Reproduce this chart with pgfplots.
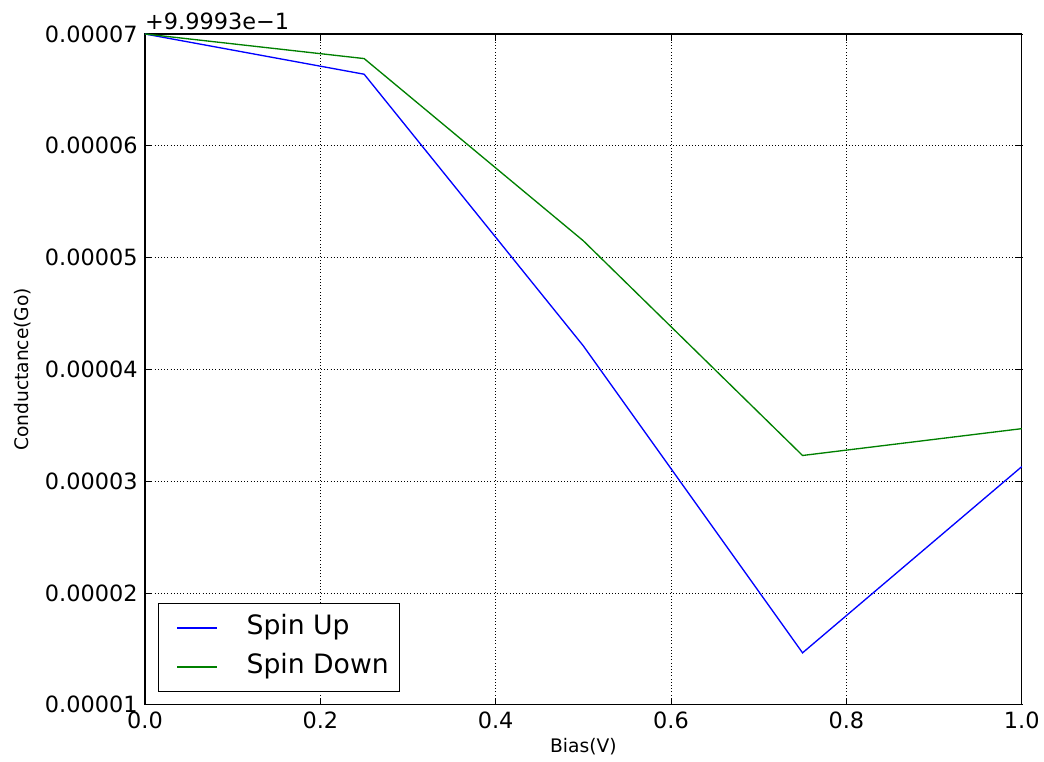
\documentclass[border=0pt]{standalone}
\usepackage{pgfplots}
\pgfplotsset{compat=1.18}
\usepackage{fontspec}
\setmainfont{DejaVu Sans}
\definecolor{mplblue}{rgb}{0,0,1}
\definecolor{mplgreen}{rgb}{0,0.5,0}
\begin{document}
\begin{tikzpicture}
\begin{axis}[
  scale only axis,
  width=657.75pt, height=503.25pt,
  clip=false,
  xmin=0, xmax=1, ymin=0.00001, ymax=0.00007,
  scaled y ticks=false, scaled x ticks=false,
  xtick={0,0.2,0.4,0.6,0.8,1.0},
  xticklabels={0.0,0.2,0.4,0.6,0.8,1.0},
  ytick={0.00001,0.00002,0.00003,0.00004,0.00005,0.00006,0.00007},
  yticklabels={0.00001,0.00002,0.00003,0.00004,0.00005,0.00006,0.00007},
  tick align=inside,
  tick pos=both,
  major tick length=5pt,
  tick style={black, line width=0.6pt},
  grid=major,
  grid style={black, dotted, line width=0.6pt},
  axis line style={black, line width=1pt},
  /pgf/number format/assume math mode=true,
  ticklabel style={font=\fontsize{16.8pt}{19pt}\selectfont},
  xticklabel style={yshift=-2pt},
  yticklabel style={xshift=-2pt},
  label style={font=\fontsize{14pt}{17pt}\selectfont},
  xlabel={Bias(V)},
  ylabel={Conductance(Go)},
  xlabel style={at={(axis description cs:0.5,0)}, anchor=center, yshift=-31pt},
  ylabel style={at={(axis description cs:-0.14,0.5)}, anchor=center},
  legend style={at={(axis description cs:0.0148,0.019)}, anchor=south west,
    draw=black, line width=1pt, font=\fontsize{20pt}{24pt}\selectfont,
    row sep=9.25pt, inner xsep=4pt, inner ysep=8.4pt,
    nodes={inner xsep=4pt, inner ysep=0pt, text height=15pt, text depth=5pt}},
  legend cell align=left,
  legend image code/.code={\path[draw=none] (0pt,0pt) -- (58pt,0pt); \draw[#1, line width=1pt] (10pt,0pt) -- (40pt,0pt);},
]
\addplot[mplblue, line width=1pt] coordinates {
  (0,0.00007) (0.25,0.0000664) (0.5,0.0000421) (0.75,0.00001465) (1.0,0.0000313)
};
\addlegendentry{Spin Up}
\addplot[mplgreen, line width=1pt] coordinates {
  (0,0.00007) (0.25,0.0000678) (0.5,0.0000515) (0.75,0.0000323) (1.0,0.0000347)
};
\addlegendentry{Spin Down}
\node[anchor=south west, inner sep=0pt, font=\fontsize{16.8pt}{19pt}\selectfont] at (rel axis cs:0,1) [yshift=3pt] {+9.9993e\textminus1};
\end{axis}
\path (-108.75pt,-42.75pt) rectangle (674.25pt,528.75pt);
\end{tikzpicture}
\end{document}
